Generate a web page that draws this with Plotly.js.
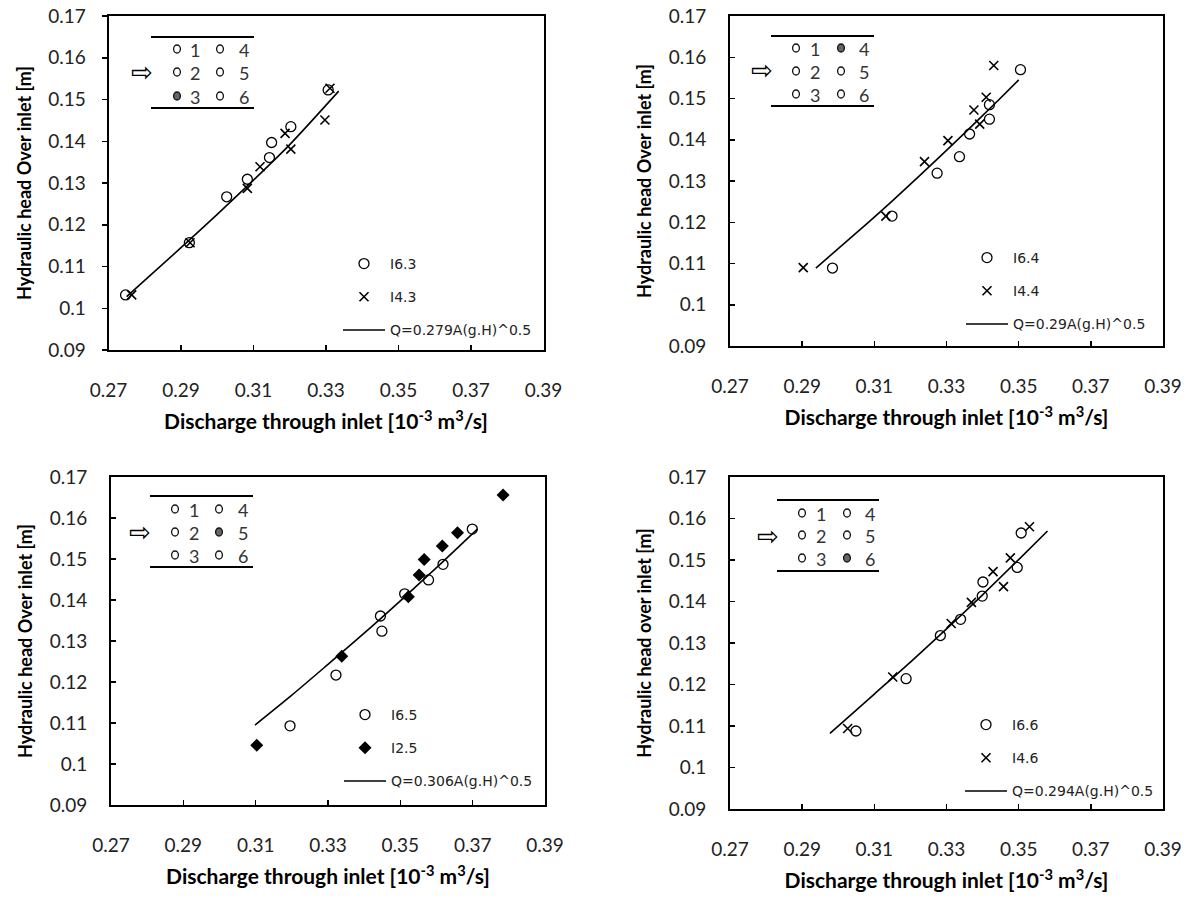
<!DOCTYPE html>
<html><head><meta charset="utf-8">
<script src="https://cdn.plot.ly/plotly-3.0.1.min.js"></script>
<style>html,body{margin:0;padding:0;background:#fff}#chart{width:1192px;height:911px}</style>
</head><body><div id="chart"></div><script>
// ---------- tick labels ----------
const xTickVals = [0.27, 0.29, 0.31, 0.33, 0.35, 0.37, 0.39];
const xTickText = ['0.27', '0.29', '0.31', '0.33', '0.35', '0.37', '0.39'];
const yTickVals = [0.09, 0.10, 0.11, 0.12, 0.13, 0.14, 0.15, 0.16, 0.17];
const yTickText = ['0.09', '0.1', '0.11', '0.12', '0.13', '0.14', '0.15', '0.16', '0.17'];
const xTitle = 'Discharge through inlet [10<sup>-3</sup> m<sup>3</sup>/s]';
const yTitles = ['Hydraulic head Over inlet [m]', 'Hydraulic head Over inlet [m]',
                 'Hydraulic head Over inlet [m]', 'Hydraulic head over inlet [m]'];
const insetLabels = ['1', '2', '3', '4', '5', '6'];
const insetFilled = [3, 4, 5, 6];

// ---------- panel 1 (I6.3 / I4.3) ----------
const p1Names = ['I6.3', 'I4.3', 'Q=0.279A(g.H)^0.5'];
const p1CircleQ = [0.2747, 0.2923, 0.3026, 0.3083, 0.3144, 0.3150, 0.3203, 0.3306];
const p1CircleH = [0.1032, 0.1157, 0.1267, 0.1309, 0.1361, 0.1397, 0.1435, 0.1523];
const p1CrossQ  = [0.2764, 0.2925, 0.3083, 0.3118, 0.3187, 0.3203, 0.3297, 0.3311];
const p1CrossH  = [0.1032, 0.1157, 0.1287, 0.1339, 0.1419, 0.1381, 0.1451, 0.1527];
const p1FitQ    = [0.2750, 0.2900, 0.3000, 0.3100, 0.3200, 0.3335];
const p1FitH    = [0.1028, 0.1145, 0.1225, 0.1307, 0.1392, 0.1520];

// ---------- panel 2 (I6.4 / I4.4) ----------
const p2Names = ['I6.4', 'I4.4', 'Q=0.29A(g.H)^0.5'];
const p2CircleQ = [0.2984, 0.3149, 0.3274, 0.3336, 0.3364, 0.3419, 0.3419, 0.3505];
const p2CircleH = [0.1089, 0.1215, 0.1319, 0.1359, 0.1414, 0.1450, 0.1485, 0.1570];
const p2CrossQ  = [0.2903, 0.3132, 0.3239, 0.3304, 0.3376, 0.3392, 0.3410, 0.3431];
const p2CrossH  = [0.1090, 0.1215, 0.1347, 0.1398, 0.1472, 0.1438, 0.1503, 0.1580];
const p2FitQ    = [0.2938, 0.3050, 0.3150, 0.3250, 0.3350, 0.3445, 0.3500];
const p2FitH    = [0.1089, 0.1174, 0.1252, 0.1333, 0.1416, 0.1497, 0.1545];

// ---------- panel 3 (I6.5 / I2.5) ----------
const p3Names = ['I6.5', 'I2.5', 'Q=0.306A(g.H)^0.5'];
const p3CircleQ = [0.3195, 0.3322, 0.3449, 0.3445, 0.3512, 0.3578, 0.3618, 0.3699];
const p3CircleH = [0.1093, 0.1217, 0.1324, 0.1361, 0.1415, 0.1449, 0.1487, 0.1573];
const p3DiamQ   = [0.3103, 0.3338, 0.3522, 0.3552, 0.3566, 0.3616, 0.3658, 0.3784];
const p3DiamH   = [0.1046, 0.1263, 0.1408, 0.1461, 0.1499, 0.1532, 0.1564, 0.1656];
const p3FitQ    = [0.3098, 0.3200, 0.3300, 0.3400, 0.3500, 0.3600, 0.3713];
const p3FitH    = [0.1095, 0.1168, 0.1243, 0.1319, 0.1398, 0.1479, 0.1573];

// ---------- panel 4 (I6.6 / I4.6) ----------
const p4Names = ['I6.6', 'I4.6', 'Q=0.294A(g.H)^0.5'];
const p4CircleQ = [0.3049, 0.3188, 0.3283, 0.3339, 0.3399, 0.3401, 0.3496, 0.3507];
const p4CircleH = [0.1088, 0.1214, 0.1318, 0.1357, 0.1413, 0.1447, 0.1482, 0.1565];
const p4CrossQ  = [0.3026, 0.3151, 0.3313, 0.3369, 0.3429, 0.3458, 0.3477, 0.3530];
const p4CrossH  = [0.1094, 0.1218, 0.1347, 0.1398, 0.1472, 0.1436, 0.1505, 0.1580];
const p4FitQ    = [0.2977, 0.3100, 0.3200, 0.3300, 0.3400, 0.3500, 0.3580];
const p4FitH    = [0.1082, 0.1177, 0.1254, 0.1334, 0.1416, 0.1501, 0.1570];

// ---------- layout helpers (pixel -> paper) ----------
const W = 1192, H = 911;
const PX = p => p / W, PY = p => 1 - p / H;

const panels = [
  {xd: [108.5, 543.5], yd: [16, 350], yticks: 'outside', leg: [338, 248],
   inset: {lx: [151, 254], ly: [37, 108], arrow: [142, 72], cc: [177, 220], cn: [195, 244], rows: [49, 72, 96]}},
  {xd: [730, 1163], yd: [16, 346], yticks: 'inside', leg: [961, 242],
   inset: {lx: [771, 874], ly: [36, 106], arrow: [762, 70], cc: [796, 841], cn: [815, 864], rows: [48, 71, 94]}},
  {xd: [111, 545], yd: [477, 805], yticks: 'inside', leg: [339, 699],
   inset: {lx: [150, 253], ly: [496, 567], arrow: [140, 532], cc: [175, 219], cn: [194, 243], rows: [509, 532, 555]}},
  {xd: [730, 1163], yd: [477, 809], yticks: 'inside', leg: [960, 709],
   inset: {lx: [777, 879], ly: [500, 571], arrow: [768, 536], cc: [802, 847], cn: [821, 870], rows: [513, 535, 558]}}
];

const FONT = 'Lato, "Open Sans", sans-serif';
const LEGFONT = '"DejaVu Sans", sans-serif';

const series = [
  {names: p1Names, aQ: p1CircleQ, aH: p1CircleH, bQ: p1CrossQ, bH: p1CrossH, bSym: 'x-thin-open', fQ: p1FitQ, fH: p1FitH},
  {names: p2Names, aQ: p2CircleQ, aH: p2CircleH, bQ: p2CrossQ, bH: p2CrossH, bSym: 'x-thin-open', fQ: p2FitQ, fH: p2FitH},
  {names: p3Names, aQ: p3CircleQ, aH: p3CircleH, bQ: p3DiamQ, bH: p3DiamH, bSym: 'diamond', fQ: p3FitQ, fH: p3FitH},
  {names: p4Names, aQ: p4CircleQ, aH: p4CircleH, bQ: p4CrossQ, bH: p4CrossH, bSym: 'x-thin-open', fQ: p4FitQ, fH: p4FitH}
];

const traces = [];
const layout = {
  width: W, height: H, margin: {l: 0, r: 0, t: 0, b: 0},
  paper_bgcolor: '#fff', plot_bgcolor: '#fff',
  showlegend: true, shapes: [], annotations: []
};

panels.forEach((p, i) => {
  const n = i + 1;
  const xk = n === 1 ? 'x' : 'x' + n, yk = n === 1 ? 'y' : 'y' + n;
  const legk = n === 1 ? 'legend' : 'legend' + n;
  const s = series[i];
  const common = {xaxis: xk, yaxis: yk, legend: legk, type: 'scatter', hoverinfo: 'skip'};
  traces.push(Object.assign({}, common, {
    x: s.aQ, y: s.aH, mode: 'markers', name: s.names[0], legendgroup: 'a' + n,
    marker: {symbol: 'circle-open', size: 10, color: '#000', line: {width: 1.3, color: '#000'}}
  }));
  const bMarker = s.bSym === 'diamond'
    ? {symbol: 'diamond', size: 10, color: '#000', line: {width: 0}}
    : {symbol: 'x-thin-open', size: 9, color: '#000', line: {width: 1.6, color: '#000'}};
  traces.push(Object.assign({}, common, {
    x: s.bQ, y: s.bH, mode: 'markers', name: s.names[1], legendgroup: 'b' + n, marker: bMarker
  }));
  traces.push(Object.assign({}, common, {
    x: s.fQ, y: s.fH, mode: 'lines', name: s.names[2], legendgroup: 'c' + n,
    line: {color: '#000', width: 1.6, shape: 'spline', smoothing: 0.8}
  }));

  const axLine = {showline: true, linecolor: '#000', linewidth: 2, mirror: true,
                  showgrid: false, zeroline: false, automargin: false,
                  tickcolor: '#000', tickwidth: 1.5, ticklen: 5};
  layout[n === 1 ? 'xaxis' : 'xaxis' + n] = Object.assign({}, axLine, {
    domain: [PX(p.xd[0]), PX(p.xd[1])], anchor: yk, range: [0.27, 0.39],
    tickmode: 'array', tickvals: xTickVals, ticktext: xTickText, ticks: 'inside',
    ticklabelstandoff: 22,
    tickfont: {family: FONT, size: 19, color: '#222'},
    title: {text: xTitle, standoff: 15, font: {family: FONT, size: 21, color: '#000', weight: 'bold'}}
  });
  layout[n === 1 ? 'yaxis' : 'yaxis' + n] = Object.assign({}, axLine, {
    domain: [PY(p.yd[1]), PY(p.yd[0])], anchor: xk, range: [0.09, 0.17],
    tickmode: 'array', tickvals: yTickVals, ticktext: yTickText, ticks: p.yticks,
    ticklabelstandoff: p.yticks === 'outside' ? 12 : 18,
    tickfont: {family: FONT, size: 19, color: '#222'},
    title: {text: yTitles[i], standoff: 12, font: {family: FONT, size: 18, color: '#000', weight: 'bold'}}
  });
  layout[legk] = {
    x: PX(p.leg[0]), y: PY(p.leg[1]), xanchor: 'left', yanchor: 'top',
    bgcolor: 'rgba(0,0,0,0)', borderwidth: 0, traceorder: 'grouped', tracegroupgap: 12,
    itemwidth: 42,
    font: {family: LEGFONT, size: 14, color: '#222'}
  };

  // inset key table
  const q = p.inset;
  q.ly.forEach(yy => layout.shapes.push({type: 'line', xref: 'paper', yref: 'paper',
    x0: PX(q.lx[0]), x1: PX(q.lx[1]), y0: PY(yy), y1: PY(yy), line: {color: '#000', width: 2.2}}));
  layout.annotations.push({xref: 'paper', yref: 'paper', x: PX(q.arrow[0]), y: PY(q.arrow[1]),
    text: '\u21E8', showarrow: false, xanchor: 'center', yanchor: 'middle',
    font: {family: '"DejaVu Sans", sans-serif', size: 26, color: '#000'}});
  insetLabels.forEach((lab, k) => {
    const col = Math.floor(k / 3), row = k % 3;
    const cx = q.cc[col], cy = q.rows[row];
    const filled = (k + 1) === insetFilled[i];
    const r = 3.4;
    layout.shapes.push({type: 'circle', xref: 'paper', yref: 'paper',
      x0: PX(cx - r), x1: PX(cx + r), y0: PY(cy + r + 0.6), y1: PY(cy - r - 0.6),
      fillcolor: filled ? '#666' : '#fff', line: {color: '#111', width: 1.3}});
    layout.annotations.push({xref: 'paper', yref: 'paper', x: PX(q.cn[col]), y: PY(cy + 1),
      text: lab, showarrow: false, xanchor: 'center', yanchor: 'middle',
      font: {family: FONT, size: 18, color: '#333'}});
  });
});

Plotly.newPlot('chart', traces, layout, {staticPlot: true, displayModeBar: false});
</script></body></html>
